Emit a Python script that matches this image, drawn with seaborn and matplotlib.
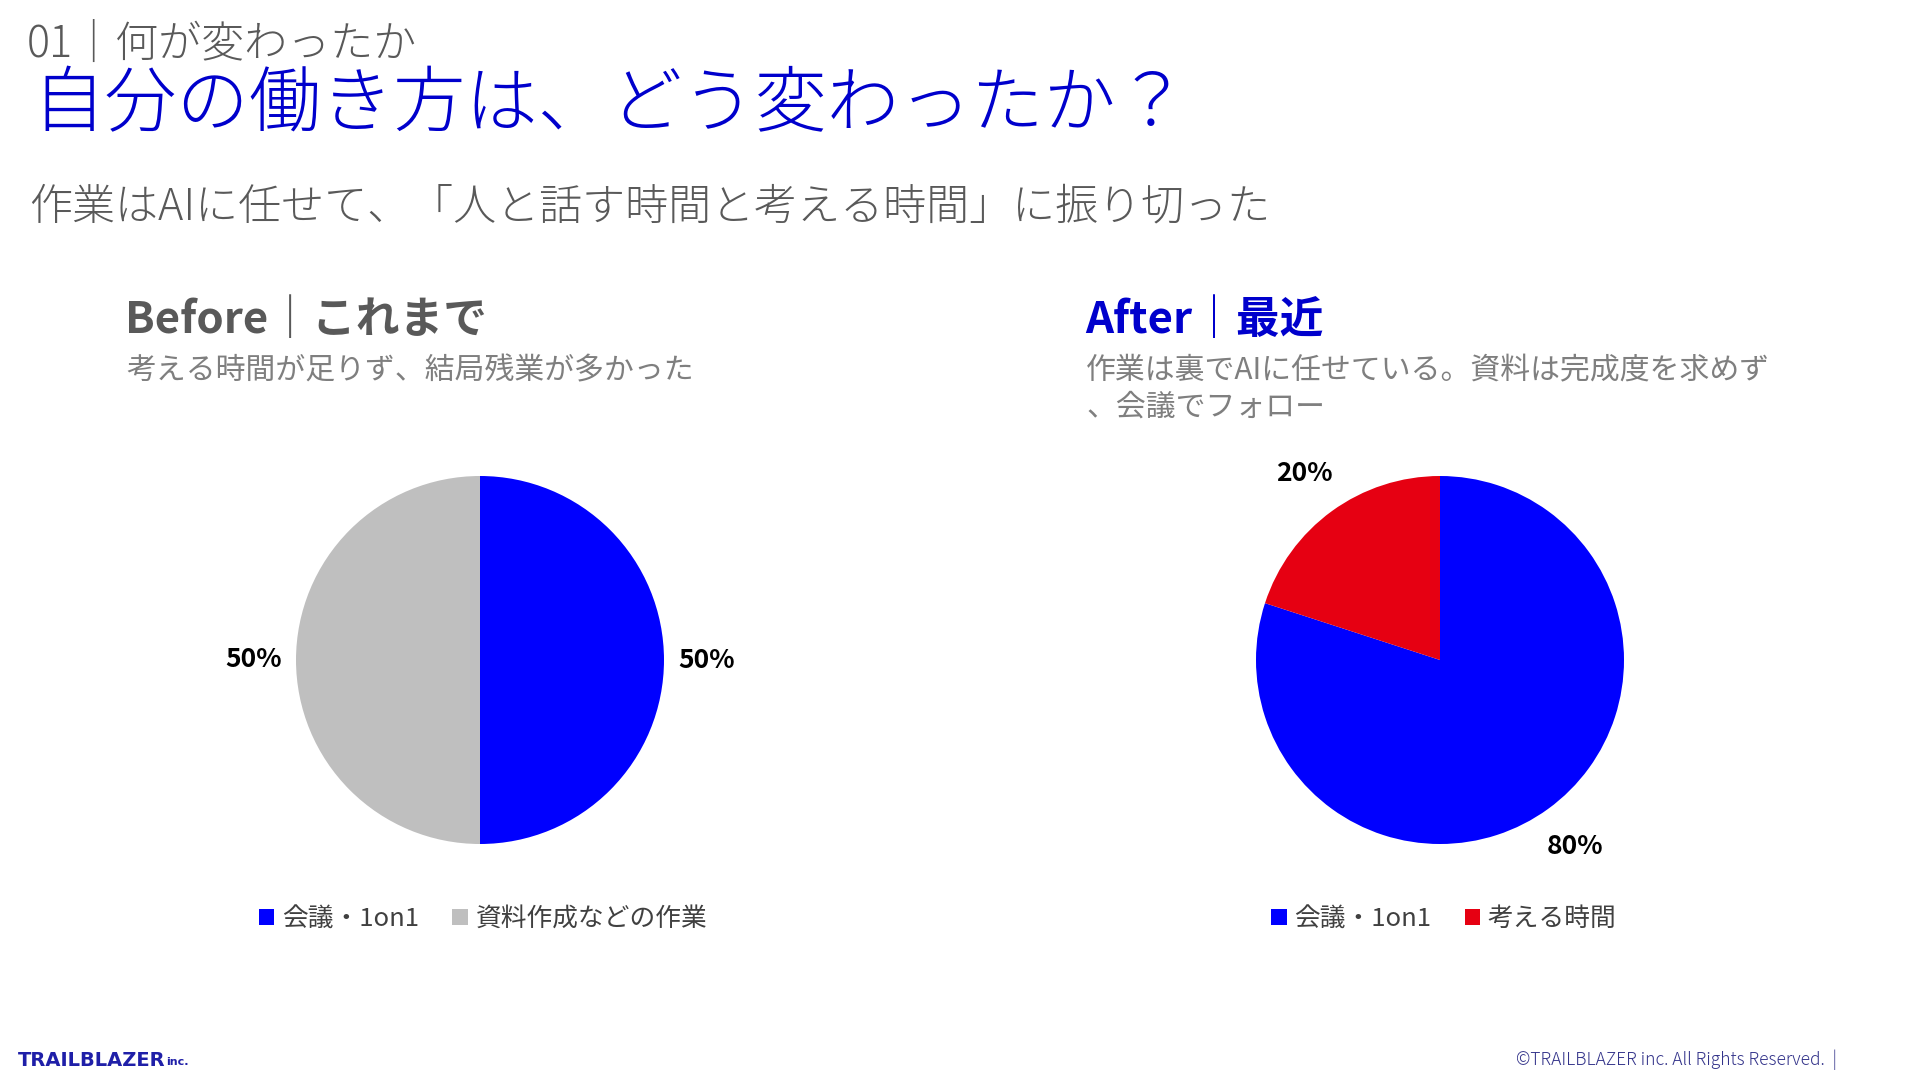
import matplotlib
matplotlib.use('Agg')
import matplotlib.pyplot as plt
import seaborn as sns

# ── データ ──────────────────────────────────────────────
before_labels = ['会議・1on1', '資料作成などの作業']
before_values = [50, 50]
after_labels = ['会議・1on1', '考える時間']
after_values = [80, 20]

before_colors = ['#0000FF', '#BFBFBF']
after_colors = ['#0000FF', '#E60012']

sns.set_theme(style='white')
plt.rcParams['font.family'] = ['Noto Sans CJK JP', 'DejaVu Sans']

W, H = 1920, 1080
fig = plt.figure(figsize=(W / 100, H / 100), dpi=100)
fig.patch.set_facecolor('white')


def fx(px):
    return px / W


def fy(py):
    return (H - py) / H


BLUE = '#0000CC'
GRAY = '#595959'
LIGHT = '#7F7F7F'

# ── ヘッダー ─────────────────────────────────────────────
fig.text(fx(27), fy(44), '01｜何が変わったか', fontsize=31, color=GRAY,
         fontweight='light', va='center')
fig.text(fx(32), fy(106), '自分の働き方は、どう変わったか？', fontsize=52, color=BLUE,
         fontweight='light', va='center')
fig.text(fx(29), fy(207), '作業はAIに任せて、「人と話す時間と考える時間」に振り切った',
         fontsize=31, color=GRAY, fontweight='light', va='center')

# ── セクション見出し ─────────────────────────────────────
fig.text(fx(125), fy(320), 'Before｜これまで', fontsize=31.5, color=GRAY,
         fontweight='bold', va='center')
fig.text(fx(126), fy(371), '考える時間が足りず、結局残業が多かった',
         fontsize=21.5, color=LIGHT, va='center')

fig.text(fx(1085), fy(320), 'After｜最近', fontsize=31.5, color=BLUE,
         fontweight='bold', va='center')
after_desc = ['作業は裏でAIに任せている。資料は完成度を求めず', '、会議でフォロー']
for i, line in enumerate(after_desc):
    fig.text(fx(1086), fy(371 + 36 * i), line, fontsize=21.5, color=LIGHT, va='center')


# ── 円グラフ ─────────────────────────────────────────────
def draw_pie(cx, cy, values, labels, colors, legend_cx, pct_dist):
    r = 184
    half = 1.5 * r
    ax = fig.add_axes([fx(cx - half), fy(cy + half), 2 * half / W, 2 * half / H])
    wedges, _, autotexts = ax.pie(values, colors=colors, startangle=90,
                                  counterclock=False, radius=1,
                                  autopct='%1.0f%%', pctdistance=pct_dist,
                                  wedgeprops={'linewidth': 0})
    for t in autotexts:
        t.set_fontsize(19)
        t.set_fontweight('bold')
        t.set_color('black')
    ax.set_xlim(-1.5, 1.5)
    ax.set_ylim(-1.5, 1.5)
    ax.set_aspect('equal')
    ax.axis('off')
    leg = ax.legend(wedges, labels, loc='center', ncol=2, frameon=False,
                    bbox_to_anchor=(fx(legend_cx), fy(919)),
                    bbox_transform=fig.transFigure,
                    fontsize=18.5, handlelength=0.6, handleheight=0.6,
                    handletextpad=0.3, columnspacing=1.3)
    for t in leg.get_texts():
        t.set_color('#404040')
    return ax


draw_pie(480, 660, before_values, before_labels, before_colors, 483, 1.23)
draw_pie(1440, 660, after_values, after_labels, after_colors, 1444, 1.25)

# ── フッター ─────────────────────────────────────────────
fig.text(fx(18), fy(1060), 'TRAILBLAZER', fontsize=14, color='#1F1FA8',
         fontweight='bold', va='center', family='DejaVu Sans')
fig.text(fx(166), fy(1062), 'inc.', fontsize=8, color='#1F1FA8',
         fontweight='bold', va='center', family='DejaVu Sans')
fig.text(fx(1837), fy(1060), '©TRAILBLAZER inc. All Rights Reserved.  |',
         fontsize=12.5, color='#33338A', fontweight='light', ha='right', va='center')

fig.savefig('out.png', dpi=100, facecolor='white')
